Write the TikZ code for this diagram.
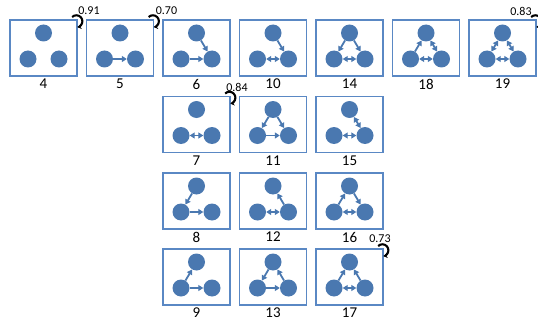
\documentclass[tikz,border=0pt]{standalone}
\usepackage{fontspec}
\setmainfont{Carlito}
\usetikzlibrary{arrows.meta, positioning}

\definecolor{nodeblue}{HTML}{4A78B0}
\definecolor{boxblue}{HTML}{5A88C4}

\newcommand{\triad}[3]{%
\node[motif] (m#1) at (#2,#3) {};
\node[vert] (m#1t) at (#2,#3-15) {};
\node[vert] (m#1l) at (#2-15.5,#3+11) {};
\node[vert] (m#1r) at (#2+15.5,#3+11) {};
\node[idlabel, below=2pt of m#1] (n#1) {#1};
}

\begin{document}
\begin{tikzpicture}[x=1pt, y=-1pt,
  motif/.style={draw=boxblue, line width=1.5pt, minimum width=67pt, minimum height=56pt, inner sep=0pt},
  vert/.style={circle, fill=nodeblue, minimum size=17pt, inner sep=0pt},
  one/.style={draw=nodeblue, line width=1.8pt, -{Triangle[length=5pt,width=6pt]}},
  two/.style={draw=nodeblue, line width=1.8pt, {Triangle[length=5pt,width=6pt]}-{Triangle[length=5pt,width=6pt]}},
  idlabel/.style={font=\fontsize{15}{15}\selectfont, inner sep=0pt},
  freq/.style={font=\fontsize{12}{12}\selectfont, inner sep=0pt},
  freqarc/.style={black, line width=2.1pt, -{Stealth[length=4pt,width=5pt]}}]
\useasboundingbox (0,0) rectangle (538,321);
% motif boxes
\foreach \id/\x/\y in {4/43.5/48, 5/120/48, 6/196.5/48, 10/273/48, 14/349.5/48, 18/426/48, 19/502.5/48,
  7/196.5/124.5, 11/273/124.5, 15/349.5/124.5,
  8/196.5/201, 12/273/201, 16/349.5/201,
  9/196.5/277, 13/273/277, 17/349.5/277}
  \triad{\id}{\x}{\y};
% one-way edges
\foreach \a/\b in {5l/5r, 6l/6r, 6t/6r, 10t/10r, 14t/14l, 14t/14r, 18l/18t,
  11l/11r, 11t/11l, 11t/11r, 8t/8l, 8l/8r, 12r/12t, 16l/16t, 16t/16r,
  9l/9t, 9l/9r, 13l/13r, 13r/13t, 13t/13l, 17l/17t, 17r/17t}
  \draw[one] (m\a) -- (m\b);
% two-way edges
\foreach \a/\b in {10l/10r, 14l/14r, 18l/18r, 18t/18r, 19l/19r, 19t/19l, 19t/19r,
  7l/7r, 15l/15r, 15t/15r, 12l/12r, 16l/16r, 17l/17r}
  \draw[two] (m\a) -- (m\b);
% self loops with frequencies
\foreach \id/\tx/\ty/\f in {4/89/11/0.91, 5/166.5/11/0.70, 7/237/87.5/0.84, 17/380/238.5/0.73, 19/521/11/0.83} {
  \draw[freqarc] ([shift={(-5.6pt,2.2pt)}]m\id.north east) arc[start angle=135, end angle=-80, radius=6pt];
  \node[freq] (f\id) at (\tx,\ty) {\f};
}
\end{tikzpicture}
\end{document}
